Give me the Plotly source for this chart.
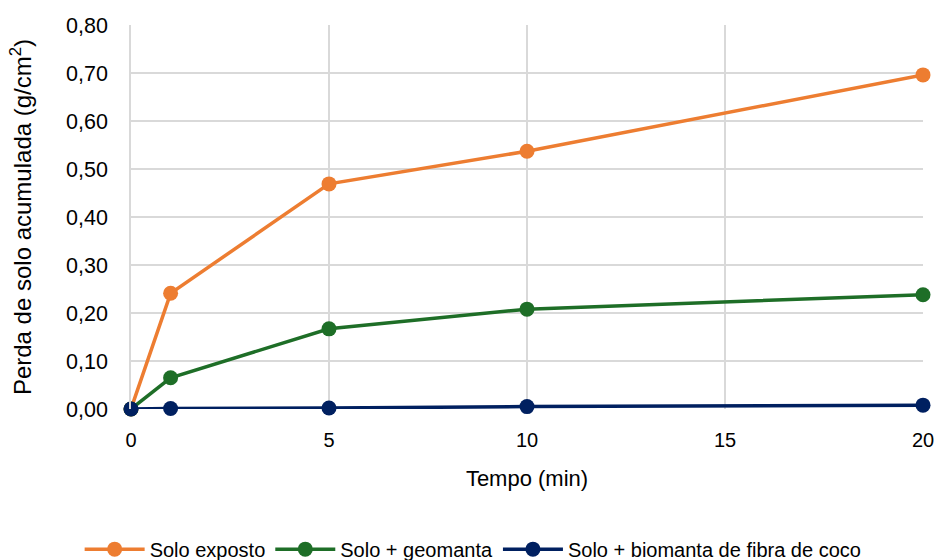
import plotly.graph_objects as go

tempo = [0, 1, 5, 10, 20]
solo_exposto = [0.0, 0.241, 0.469, 0.537, 0.696]
solo_geomanta = [0.0, 0.065, 0.167, 0.208, 0.238]
solo_biomanta = [0.0, 0.001, 0.002, 0.005, 0.008]

series = [
    ("Solo exposto", solo_exposto, "#ED7D31"),
    ("Solo + geomanta", solo_geomanta, "#1E6E27"),
    ("Solo + biomanta de fibra de coco", solo_biomanta, "#002060"),
]

fig = go.Figure()
for name, vals, color in series:
    fig.add_trace(go.Scatter(
        x=tempo, y=vals, name=name, mode="lines+markers",
        line=dict(color=color, width=3.5),
        marker=dict(color=color, size=15),
        cliponaxis=False,
    ))

sans = "Liberation Sans, Arial, sans-serif"

fig.update_layout(
    width=937, height=560,
    paper_bgcolor="white", plot_bgcolor="white",
    margin=dict(l=131, r=14, t=25, b=151, autoexpand=False),
    font=dict(family=sans, size=20, color="#000000"),
    legend=dict(orientation="h", x=0.432, xanchor="center", y=-0.365, yanchor="middle",
                font=dict(family=sans, size=20), itemwidth=60, traceorder="normal"),
    showlegend=True,
    separators=",.",
)
fig.update_xaxes(
    range=[0, 20], tickvals=[0, 5, 10, 15, 20],
    showgrid=True, gridcolor="#D9D9D9", gridwidth=1.5,
    showline=False, zeroline=False, ticks="",
    tickfont=dict(size=20), ticklabelstandoff=17,
    title=dict(text="Tempo (min)", font=dict(size=22), standoff=20),
)
fig.update_yaxes(
    range=[0, 0.8], dtick=0.1, tickformat=".2f",
    showgrid=True, gridcolor="#D9D9D9", gridwidth=1.5,
    showline=True, linecolor="#D9D9D9", linewidth=1.5,
    zeroline=False, ticks="", ticklabelstandoff=17,
    tickfont=dict(size=21.5),
    title=dict(text="Perda de solo acumulada (g/cm<sup>2</sup>)", font=dict(size=24), standoff=28),
)

fig.write_html("out.html", config={"displayModeBar": False},
               post_script="document.body.style.margin='0';document.body.style.overflow='hidden';")
